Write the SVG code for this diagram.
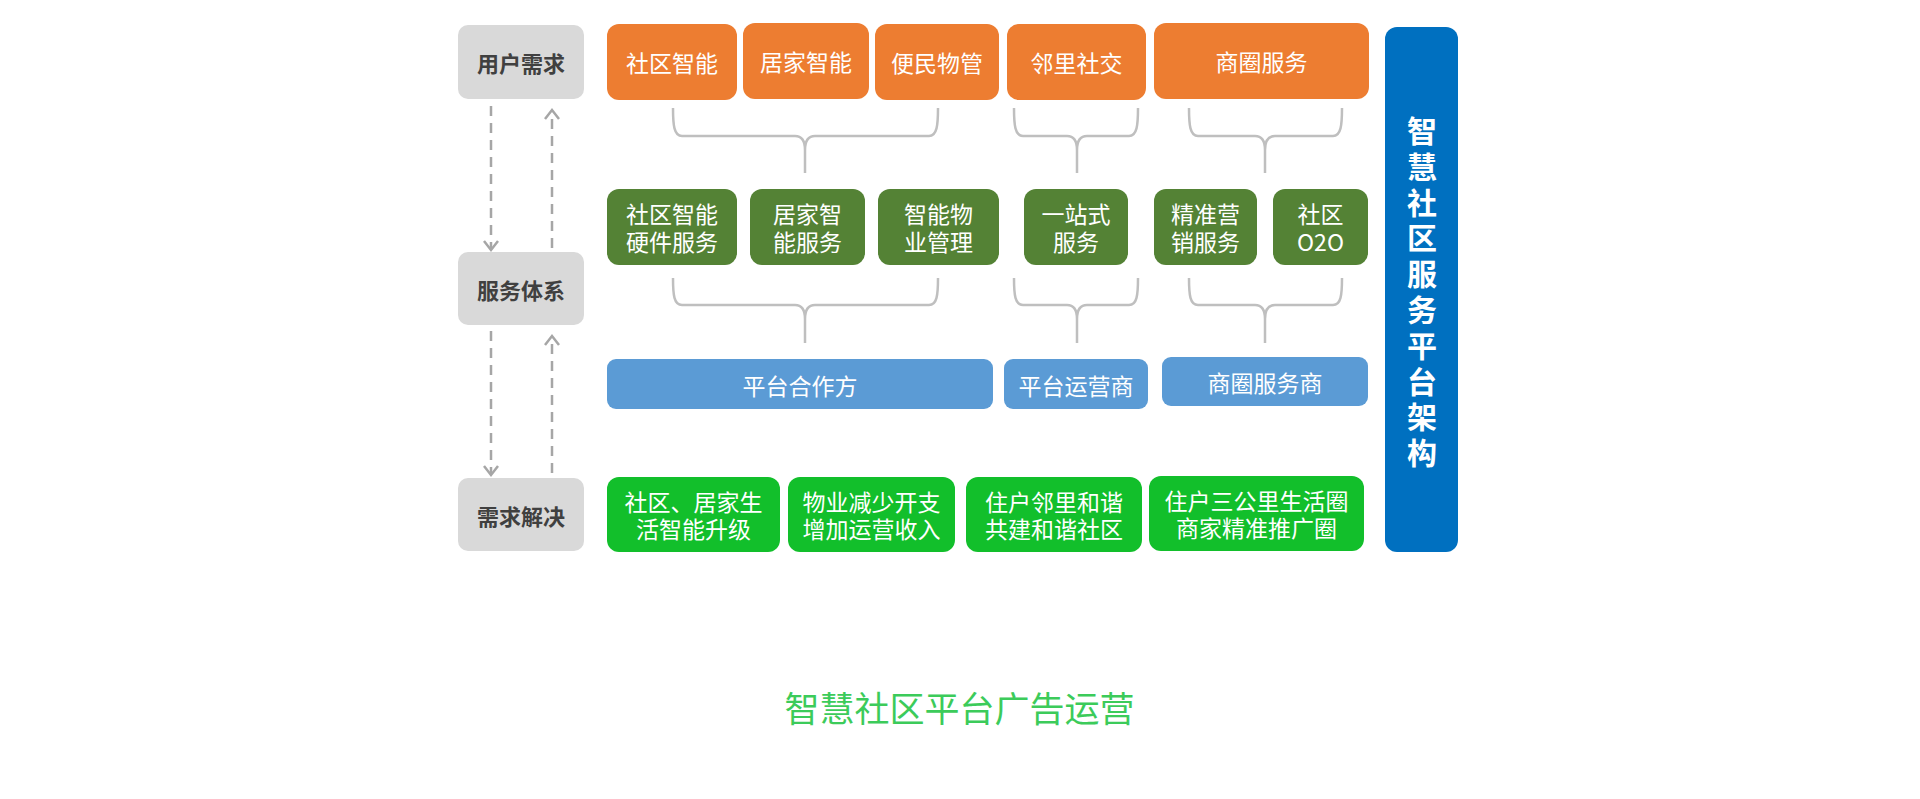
<svg xmlns="http://www.w3.org/2000/svg" width="1920" height="799" viewBox="0 0 1920 799">
<style>
text{font-family:"Noto Sans CJK SC","Noto Sans",sans-serif;text-anchor:middle;dominant-baseline:central;}
.w{fill:#ffffff;font-size:23px;}
.g{fill:#404040;font-size:22px;font-weight:bold;}
.gray{fill:#d9d9d9;}
.or{fill:#ed7d31;}
.dg{fill:#548235;}
.lb{fill:#5b9bd5;}
.bg{fill:#12bf2b;}
.br{fill:none;stroke:#bfbfbf;stroke-width:2.5;}
.da{fill:none;stroke:#a6a6a6;stroke-width:2.5;stroke-dasharray:10 7;}
.ah{fill:none;stroke:#a6a6a6;stroke-width:2.5;stroke-linejoin:miter;}
</style>
<rect width="1920" height="799" fill="#ffffff"/>
<g id="left-labels">
<g id="n-yonghu"><rect class="gray" x="458" y="25" width="126" height="74" rx="10"/><text class="g" x="521" y="62">用户需求</text></g>
<g id="n-fuwu"><rect class="gray" x="458" y="252" width="126" height="73" rx="10"/><text class="g" x="521" y="288.5">服务体系</text></g>
<g id="n-xuqiu"><rect class="gray" x="458" y="478" width="126" height="73" rx="10"/><text class="g" x="521" y="514.5">需求解决</text></g>
</g>
<g id="row-demand">
<g id="n-o1"><rect class="or" x="607" y="24" width="130" height="76" rx="12"/><text class="w" x="672" y="62">社区智能</text></g>
<g id="n-o2"><rect class="or" x="743" y="23" width="126" height="76" rx="12"/><text class="w" x="806" y="61">居家智能</text></g>
<g id="n-o3"><rect class="or" x="875" y="24" width="124" height="76" rx="12"/><text class="w" x="937" y="62">便民物管</text></g>
<g id="n-o4"><rect class="or" x="1007" y="24" width="139" height="76" rx="12"/><text class="w" x="1076.5" y="62">邻里社交</text></g>
<g id="n-o5"><rect class="or" x="1154" y="23" width="215" height="76" rx="12"/><text class="w" x="1261.5" y="61">商圈服务</text></g>
</g>
<g id="row-service">
<g id="n-s1"><rect class="dg" x="607" y="189" width="130" height="76" rx="12"/><text class="w" y="213"><tspan x="672">社区智能</tspan><tspan x="672" dy="28">硬件服务</tspan></text></g>
<g id="n-s2"><rect class="dg" x="750" y="189" width="115" height="76" rx="12"/><text class="w" y="213"><tspan x="807.5">居家智</tspan><tspan x="807.5" dy="28">能服务</tspan></text></g>
<g id="n-s3"><rect class="dg" x="878" y="189" width="121" height="76" rx="12"/><text class="w" y="213"><tspan x="938.5">智能物</tspan><tspan x="938.5" dy="28">业管理</tspan></text></g>
<g id="n-s4"><rect class="dg" x="1024" y="189" width="104" height="76" rx="12"/><text class="w" y="213"><tspan x="1076">一站式</tspan><tspan x="1076" dy="28">服务</tspan></text></g>
<g id="n-s5"><rect class="dg" x="1154" y="189" width="103" height="76" rx="12"/><text class="w" y="213"><tspan x="1205.5">精准营</tspan><tspan x="1205.5" dy="28">销服务</tspan></text></g>
<g id="n-s6"><rect class="dg" x="1273" y="189" width="95" height="76" rx="12"/><text class="w" y="213"><tspan x="1320.5">社区</tspan><tspan x="1320.5" dy="28">O2O</tspan></text></g>
</g>
<g id="row-partner">
<g id="n-p1"><rect class="lb" x="607" y="359" width="386" height="50" rx="9"/><text class="w" x="800" y="385">平台合作方</text></g>
<g id="n-p2"><rect class="lb" x="1004" y="359" width="144" height="50" rx="9"/><text class="w" x="1076" y="385">平台运营商</text></g>
<g id="n-p3"><rect class="lb" x="1162" y="357" width="206" height="49" rx="9"/><text class="w" x="1265" y="382">商圈服务商</text></g>
</g>
<g id="row-solve">
<g id="n-r1"><rect class="bg" x="607" y="477" width="173" height="75" rx="12"/><text class="w" y="501"><tspan x="693.5">社区、居家生</tspan><tspan x="693.5" dy="27">活智能升级</tspan></text></g>
<g id="n-r2"><rect class="bg" x="788" y="477" width="167" height="75" rx="12"/><text class="w" y="501"><tspan x="871.5">物业减少开支</tspan><tspan x="871.5" dy="27">增加运营收入</tspan></text></g>
<g id="n-r3"><rect class="bg" x="966" y="477" width="176" height="75" rx="12"/><text class="w" y="501"><tspan x="1054">住户邻里和谐</tspan><tspan x="1054" dy="27">共建和谐社区</tspan></text></g>
<g id="n-r4"><rect class="bg" x="1149" y="476" width="215" height="75" rx="12"/><text class="w" y="500"><tspan x="1256.5">住户三公里生活圈</tspan><tspan x="1256.5" dy="27">商家精准推广圈</tspan></text></g>
</g>
<g id="n-platform">
<rect x="1385" y="27" width="73" height="525" rx="12" fill="#0070c0"/>
<text fill="#ffffff" font-size="30" font-weight="bold" y="129"><tspan x="1422">智</tspan><tspan x="1422" dy="35.8">慧</tspan><tspan x="1422" dy="35.8">社</tspan><tspan x="1422" dy="35.8">区</tspan><tspan x="1422" dy="35.8">服</tspan><tspan x="1422" dy="35.8">务</tspan><tspan x="1422" dy="35.8">平</tspan><tspan x="1422" dy="35.8">台</tspan><tspan x="1422" dy="35.8">架</tspan><tspan x="1422" dy="35.8">构</tspan></text>
</g>
<g id="connectors">
<path class="br" d="M673 108 C673 125 674 136 682 136 H795 Q805 136 805 150 V173 M938 108 C938 125 937 136 929 136 H815 Q805 136 805 150"/>
<path class="br" d="M1014 108 C1014 125 1015 136 1023 136 H1067 Q1077 136 1077 150 V173 M1138 108 C1138 125 1137 136 1129 136 H1087 Q1077 136 1077 150"/>
<path class="br" d="M1189 108 C1189 125 1190 136 1198 136 H1255 Q1265 136 1265 150 V173 M1342 108 C1342 125 1341 136 1333 136 H1275 Q1265 136 1265 150"/>
<path class="br" d="M673 278 C673 295 674 305 682 305 H795 Q805 305 805 319 V343 M938 278 C938 295 937 305 929 305 H815 Q805 305 805 319"/>
<path class="br" d="M1014 278 C1014 295 1015 305 1023 305 H1067 Q1077 305 1077 319 V343 M1138 278 C1138 295 1137 305 1129 305 H1087 Q1077 305 1077 319"/>
<path class="br" d="M1189 278 C1189 295 1190 305 1198 305 H1255 Q1265 305 1265 319 V343 M1342 278 C1342 295 1341 305 1333 305 H1275 Q1265 305 1265 319"/>
<line class="da" x1="491" y1="106" x2="491" y2="248"/>
<path class="ah" d="M484 241 L491 250 L498 241"/>
<line class="da" x1="552" y1="248" x2="552" y2="113"/>
<path class="ah" d="M545 119 L552 110 L559 119"/>
<line class="da" x1="491" y1="331" x2="491" y2="473"/>
<path class="ah" d="M484 466 L491 475 L498 466"/>
<line class="da" x1="552" y1="473" x2="552" y2="339"/>
<path class="ah" d="M545 345 L552 336 L559 345"/>
</g>
<text x="959.5" y="706" font-size="35" fill="#3ccb5a">智慧社区平台广告运营</text>
</svg>
